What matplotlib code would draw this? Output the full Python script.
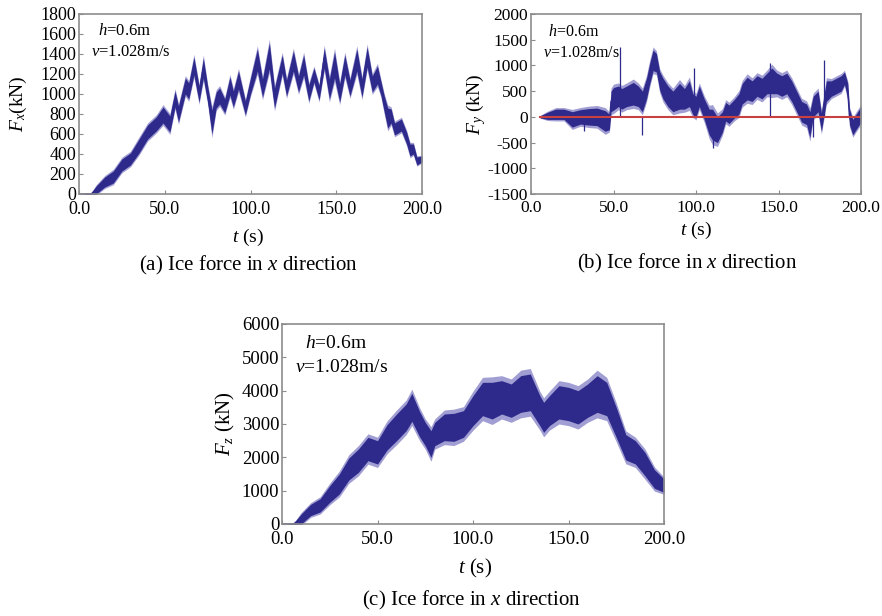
import matplotlib
matplotlib.use("Agg")
import matplotlib.pyplot as plt
import numpy as np

plt.rcParams['font.family'] = ['Liberation Serif', 'DejaVu Serif']
plt.rcParams['mathtext.fontset'] = 'custom'
plt.rcParams['mathtext.rm'] = 'Liberation Serif'
plt.rcParams['mathtext.it'] = 'Liberation Serif:italic'
plt.rcParams['axes.unicode_minus'] = False

# ---------------- data ----------------
# (a) Fx : time (s), centre of the band (kN), half width of the band (kN)
t_a = [0, 7, 10, 15, 20, 25, 30, 35, 40, 45, 49, 53, 56, 58, 62, 64, 67, 70, 72.5, 75,
       77.5, 80, 82, 85, 88, 90, 93, 97, 100, 104, 107, 111, 114, 118.5, 121, 125, 128,
       131, 134, 137, 140, 143, 146, 149, 152, 155, 158, 162, 165, 168, 171, 174, 176,
       178, 180, 182, 184, 188, 191, 193, 195, 197, 200]
fx_mid = [0, 0, 40, 120, 170, 290, 350, 480, 620, 700, 790, 700, 950, 800, 1080, 1030,
          1280, 1000, 1260, 1000, 720, 940, 980, 880, 1080, 950, 1140, 860, 1080, 1340,
          1060, 1380, 960, 1300, 1060, 1330, 1100, 1290, 1010, 1190, 1010, 1360, 1050,
          1290, 1010, 1290, 1060, 1340, 1060, 1370, 1100, 1190, 1060, 900, 760, 780, 650,
          690, 560, 440, 450, 330, 350]
fx_hw = [0, 10, 40, 50, 60, 60, 60, 70, 70, 70, 80, 80, 80, 80, 80, 80, 90, 80, 100, 80,
         120, 80, 80, 70, 90, 80, 90, 70, 80, 110, 90, 130, 100, 90, 80, 100, 80, 100, 80,
         70, 70, 100, 100, 130, 90, 100, 80, 110, 90, 100, 80, 90, 70, 80, 100, 70, 60,
         60, 60, 60, 50, 40, 30]

# (b) Fy
t_b = [5.5, 10, 15, 20, 25, 30, 35, 40, 45, 47.5, 48.5, 50, 53, 55, 58, 62, 65, 67.5, 70,
       72, 74, 76, 78, 80, 83, 86, 90, 93, 96, 98, 100, 102, 105, 108, 110, 113, 116, 118,
       120, 123, 126, 128, 131, 134, 137, 140, 143, 146, 149, 152, 155, 158, 161, 164, 167,
       169, 171, 174, 176, 179, 182, 185, 188, 190, 192, 193, 195, 197, 200]
fy_mid = [0, 20, 50, 50, -50, 0, 0, 0, -80, -100, 300, 350, 400, 350, 400, 450, 400, 300,
          550, 850, 1100, 1050, 700, 550, 400, 300, 400, 350, 450, 250, 200, 400, 150, -100,
          -150, -250, -100, 100, 50, 150, 250, 450, 550, 500, 600, 550, 650, 700, 650, 600,
          650, 500, 300, 100, 50, -150, 200, 300, -100, 500, 550, 600, 650, 750, 500, 0,
          -200, -100, 50]
fy_hw = [20, 70, 100, 100, 150, 140, 160, 170, 200, 150, 200, 220, 200, 200, 200, 220, 200,
         200, 200, 200, 200, 180, 180, 200, 200, 200, 250, 200, 250, 200, 200, 200, 200,
         250, 300, 250, 200, 180, 180, 180, 200, 200, 220, 200, 200, 200, 200, 250, 200,
         200, 200, 200, 200, 200, 200, 250, 200, 200, 180, 200, 150, 150, 150, 120, 150,
         150, 150, 150, 150]
# isolated spikes in Fy
spike_t_b = [32, 54, 67.5, 99, 110.5, 145, 171, 177.5]
spike_v_b = [-280, 1350, -350, 950, -600, 1050, -400, 1100]

# (c) Fz
t_c = [0, 6, 10, 15, 20, 25, 30, 35, 40, 45, 50, 55, 60, 65, 68, 72, 75, 78, 80, 85, 90,
       95, 100, 105, 110, 115, 120, 125, 130, 135, 137, 140, 145, 150, 155, 160, 165, 170,
       175, 180, 185, 190, 195, 200]
fz_mid = [0, 0, 150, 420, 560, 900, 1200, 1650, 1900, 2250, 2150, 2600, 2900, 3200, 3500,
          3000, 2700, 2400, 2700, 2900, 2900, 3000, 3400, 3750, 3700, 3800, 3700, 3900, 3950,
          3400, 3200, 3400, 3650, 3600, 3500, 3700, 3900, 3750, 3050, 2300, 2150, 1800,
          1350, 1150]
fz_hw = [0, 20, 150, 170, 200, 250, 300, 330, 350, 350, 350, 380, 400, 400, 420, 380, 350,
         400, 350, 400, 420, 400, 450, 500, 550, 500, 500, 550, 550, 450, 450, 450, 500,
         500, 500, 500, 550, 500, 450, 380, 350, 350, 280, 200]

x_ticks = [0, 50, 100, 150, 200]
x_ticklabels = ['0.0', '50.0', '100.0', '150.0', '200.0']
yticks_a = list(range(0, 1801, 200))
yticks_b = list(range(-1500, 2001, 500))
yticks_c = list(range(0, 6001, 1000))

DARK = '#2e2a8c'
LIGHT = '#8a86c8'
FRAME = '#8c8c8c'

W, H = 882, 616
fig = plt.figure(figsize=(W / 100, H / 100), dpi=100)


def px_axes(l, r, t, b):
    return fig.add_axes([l / W, 1 - b / H, (r - l) / W, (b - t) / H])


def ftext(x, y, s, **kw):
    fig.text(x / W, 1 - y / H, s, ha='center', va='center', **kw)


def style(ax, yticks, fs, xpad):
    ax.set_xlim(0, 200)
    ax.set_xticks(x_ticks)
    ax.set_xticklabels(x_ticklabels)
    ax.set_yticks(yticks)
    ax.set_ylim(yticks[0], yticks[-1])
    for s in ax.spines.values():
        s.set_color(FRAME)
        s.set_linewidth(1.2)
    ax.tick_params(direction='in', length=3, width=0.8, color=FRAME,
                   labelsize=fs, pad=2, top=False, right=False)
    ax.tick_params(axis='x', pad=xpad)


def band(ax, t, mid, hw):
    t = np.asarray(t, float)
    mid = np.asarray(mid, float)
    hw = np.asarray(hw, float)
    ax.fill_between(t, mid - 1.3 * hw, mid + 1.3 * hw, color=LIGHT, lw=0, alpha=0.8)
    ax.fill_between(t, mid - hw, mid + hw, color=DARK, lw=0)
    ax.plot(t, mid, color=DARK, lw=1.0)


def annot(ax, x1, y1, x2, y2, fs):
    ax.text(x1, y1, r'$h$=0.6m', transform=ax.transAxes, fontsize=fs, va='center', ha='left')
    ax.text(x2, y2, r'$v$=1.028m/s', transform=ax.transAxes, fontsize=fs, va='center', ha='left')


# (a)
ax_a = px_axes(79, 422, 14, 194)
ax_a.plot([0, t_a[1]], [0, 0], color=LIGHT, lw=1.0)
band(ax_a, t_a, fx_mid, fx_hw)
style(ax_a, yticks_a, 13, 5)
ftext(18, 104, r'$F_x$(kN)', fontsize=14, rotation=90)
ftext(248, 237, r'$t$ (s)', fontsize=14)
annot(ax_a, (98 - 79) / 343, (194 - 31) / 180, (91 - 79) / 343, (194 - 52) / 180, 12)

# (b)
ax_b = px_axes(531, 861, 14, 194)
band(ax_b, t_b, fy_mid, fy_hw)
ax_b.vlines(spike_t_b, 0, spike_v_b, color=DARK, lw=0.9)
ax_b.axhline(0, xmin=5.5 / 200, xmax=1, color='#c84040', lw=1.5)
style(ax_b, yticks_b, 12.5, 4)
ftext(476, 104, r'$F_y$ (kN)', fontsize=14, rotation=90)
ftext(696, 230, r'$t$ (s)', fontsize=14)
annot(ax_b, (548 - 531) / 330, (194 - 32) / 180, (543 - 531) / 330, (194 - 53) / 180, 11.5)

# (c)
ax_c = px_axes(282, 664, 324, 524)
ax_c.plot([0, t_c[1]], [0, 0], color=LIGHT, lw=1.0)
band(ax_c, t_c, fz_mid, fz_hw)
style(ax_c, yticks_c, 13.5, 5)
ftext(225, 424, r'$F_z$ (kN)', fontsize=15, rotation=90)
ftext(475, 568, r'$t$ (s)', fontsize=15)
annot(ax_c, (305 - 282) / 382, (524 - 343) / 200, (295 - 282) / 382, (524 - 368) / 200, 14)

ftext(249, 265, r'(a) Ice force in $x$ direction', fontsize=15)
ftext(687, 263, r'(b) Ice force in $x$ direction', fontsize=15)
ftext(472, 600, r'(c) Ice force in $x$ direction', fontsize=15)

fig.savefig('out.png', dpi=100)
